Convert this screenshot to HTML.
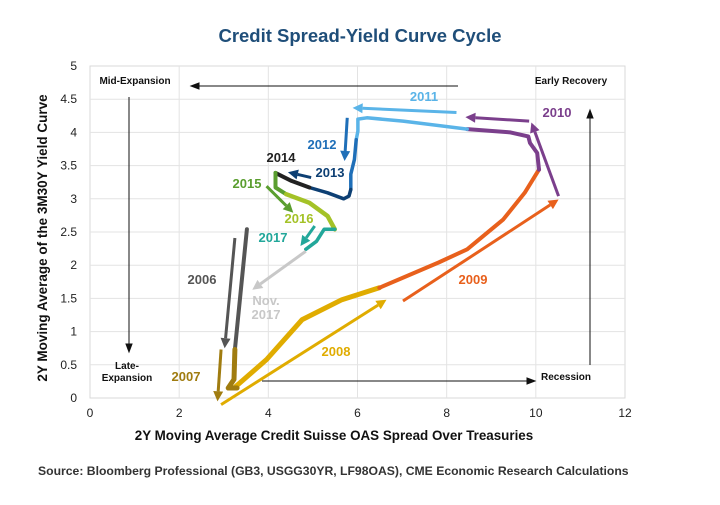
<!DOCTYPE html>
<html><head><meta charset="utf-8"><style>
body{margin:0;background:#fff;width:720px;height:500px;overflow:hidden;font-family:"Liberation Sans",sans-serif}
svg text{font-family:"Liberation Sans",sans-serif}
</style></head><body>
<svg id="chart" width="720" height="500" xmlns="http://www.w3.org/2000/svg">
<text x="360" y="42" text-anchor="middle" font-size="18.5" font-weight="bold" fill="#1f4e79">Credit Spread-Yield Curve Cycle</text>
<g id="grid"></g>
<g id="xticks"></g>
<g id="yticks"></g>
<g id="series"></g>
<g id="labels"></g>
<g font-size="10" font-weight="bold" fill="#111">
<text x="135" y="84" text-anchor="middle">Mid-Expansion</text>
<text x="571" y="84" text-anchor="middle">Early Recovery</text>
<text x="127" y="369" text-anchor="middle">Late-</text>
<text x="127" y="381" text-anchor="middle">Expansion</text>
<text x="566" y="380" text-anchor="middle">Recession</text>
</g>
<g stroke="#111" stroke-width="1" fill="#111">
<line x1="458" y1="86" x2="196" y2="86"/><polygon points="191,86 199,83 199,89"/>
<line x1="129" y1="97" x2="129" y2="347"/><polygon points="129,352 126,344 132,344"/>
<line x1="262" y1="381" x2="530" y2="381"/><polygon points="535,381 527,378 527,384"/>
<line x1="590" y1="365" x2="590" y2="115"/><polygon points="590,110 587,118 593,118"/>
</g>
<text transform="translate(47,238) rotate(-90)" text-anchor="middle" font-size="13.5" font-weight="bold" fill="#111">2Y Moving Average of the 3M30Y Yield Curve</text>
<text x="334" y="440" text-anchor="middle" font-size="13.4" font-weight="bold" fill="#111">2Y Moving Average Credit Suisse OAS Spread Over Treasuries</text>
<text x="38" y="475" font-size="12.2" font-weight="bold" fill="#333">Source: Bloomberg Professional (GB3, USGG30YR, LF98OAS), CME Economic Research Calculations</text>
</svg>
<script>
const xTicks=[0,2,4,6,8,10,12];
const yTicks=[0,0.5,1,1.5,2,2.5,3,3.5,4,4.5,5];
const yTickLabels=["0","0.5","1","1.5","2","2.5","3","3.5","4","4.5","5"];
const s2006=[[3.52,2.54],[3.25,0.73]];
const s2007=[[3.25,0.73],[3.23,0.28],[3.1,0.15],[3.3,0.15]];
const s2008=[[3.23,0.15],[3.96,0.58],[4.76,1.18],[5.65,1.48],[6.49,1.66]];
const s2009=[[6.49,1.66],[7.82,2.04],[8.46,2.24],[9.27,2.69],[9.75,3.09],[10.07,3.44]];
const s2010=[[10.07,3.44],[10.03,3.69],[9.87,3.84],[9.83,3.94],[9.43,4.0],[8.46,4.05]];
const s2011=[[8.46,4.05],[7.02,4.17],[6.21,4.22],[6.01,4.2],[6.01,4.02],[5.97,3.89]];
const s2012=[[5.97,3.89],[5.93,3.59],[5.85,3.37],[5.85,3.14]];
const s2013=[[5.85,3.14],[5.81,3.04],[5.69,3.0],[5.33,3.09],[4.92,3.17]];
const s2014=[[4.92,3.17],[4.52,3.27],[4.16,3.39]];
const s2015=[[4.16,3.39],[4.16,3.17],[4.4,3.07]];
const s2016=[[4.4,3.07],[4.92,2.94],[5.33,2.74],[5.49,2.54]];
const s2017=[[5.49,2.54],[5.25,2.54],[5.08,2.36],[4.84,2.24]];
const a2006=[[3.25,2.41],[3.02,0.75]];
const a2007=[[2.94,0.73],[2.86,-0.05]];
const a2008=[[2.94,-0.1],[6.65,1.48]];
const a2009=[[7.02,1.46],[10.51,2.99]];
const a2010a=[[10.51,3.04],[9.9,4.15]];
const a2010b=[[9.85,4.17],[8.42,4.23]];
const a2011=[[8.22,4.3],[5.89,4.37]];
const a2012=[[5.77,4.22],[5.71,3.57]];
const a2013=[[4.96,3.32],[4.44,3.4]];
const a2015=[[3.96,3.19],[4.56,2.79]];
const a2017=[[5.04,2.59],[4.72,2.29]];
const aNov=[[4.84,2.21],[3.64,1.63]];
const NS="http://www.w3.org/2000/svg";
const X0=90,X1=625,Y0=398,Y1=66;
const xs=v=>X0+(v-0)/(12-0)*(X1-X0);
const ys=v=>Y0-(v-0)/(5-0)*(Y0-Y1);
function mk(tag,attrs,parent){const e=document.createElementNS(NS,tag);for(const k in attrs)e.setAttribute(k,attrs[k]);parent.appendChild(e);return e;}
const grid=document.getElementById('grid');
mk('rect',{x:X0,y:Y1,width:X1-X0,height:Y0-Y1,fill:'none',stroke:'#d9d9d9','stroke-width':1},grid);
xTicks.forEach(t=>{if(t>0&&t<12){const l=mk('line',{x1:xs(t),x2:xs(t),y1:Y1,y2:Y0,stroke:'#e3e3e3'},grid);}
 const tx=mk('text',{x:xs(t),y:Y0+19,'text-anchor':'middle','font-size':12,fill:'#222'},document.getElementById('xticks'));tx.textContent=t;
 
 });
yTicks.forEach((t,i)=>{if(t>0&&t<5){const l=mk('line',{x1:X0,x2:X1,y1:ys(t),y2:ys(t),stroke:'#e3e3e3'},grid);}
 const tx=mk('text',{x:X0-13,y:ys(t)+4,'text-anchor':'end','font-size':12,fill:'#222'},document.getElementById('yticks'));tx.textContent=yTickLabels[i];
 
 });
const ser=document.getElementById('series');
function path(pts,color,w,name){const d=pts.map((p,i)=>(i?'L':'M')+xs(p[0]).toFixed(1)+','+ys(p[1]).toFixed(1)).join(' ');
 const e=mk('path',{d:d,fill:'none',stroke:color,'stroke-width':w,'stroke-linejoin':'round','stroke-linecap':'round'},ser);
 
 }
function arrow(pts,color,name){const [a,b]=pts;const x1=xs(a[0]),y1=ys(a[1]),x2=xs(b[0]),y2=ys(b[1]);
 const ang=Math.atan2(y2-y1,x2-x1),L=10,W=5;const bx=x2-L*Math.cos(ang),by=y2-L*Math.sin(ang);
 const g=mk('g',{},ser);
 
 
 mk('line',{x1:x1,y1:y1,x2:bx,y2:by,stroke:color,'stroke-width':3},g);
 const px=-Math.sin(ang)*W,py=Math.cos(ang)*W;
 mk('polygon',{points:`${x2},${y2} ${bx+px},${by+py} ${bx-px},${by-py}`,fill:color},g);}
path(s2006,'#555','4','path-2006');
path(s2008,'#e0ac00','5','path-2008');
path(s2007,'#a07c10','5','path-2007');
path(s2009,'#e8601c','4','path-2009');
path(s2010,'#7b3f8c','4','path-2010');
path(s2011,'#5ab4e8','3.5','path-2011');
path(s2012,'#1f6fb8','3.5','path-2012');
path(s2013,'#0d3f73','3.5','path-2013');
path(s2014,'#222','4','path-2014');
path(s2015,'#5a9e2f','4','path-2015');
path(s2016,'#a4c227','4.5','path-2016');
path(s2017,'#22a79a','3.5','path-2017');
arrow(a2006,'#555','arrow-2006');
arrow(a2007,'#a07c10','arrow-2007');
arrow(a2008,'#e0ac00','arrow-2008');
arrow(a2009,'#e8601c','arrow-2009');
arrow(a2010a,'#7b3f8c','arrow-2010-up');
arrow(a2010b,'#7b3f8c','arrow-2010-left');
arrow(a2011,'#5ab4e8','arrow-2011');
arrow(a2012,'#1f6fb8','arrow-2012');
arrow(a2013,'#0d3f73','arrow-2013');
arrow(a2015,'#5a9e2f','arrow-2015');
arrow(a2017,'#22a79a','arrow-2017');
arrow(aNov,'#c8c8c8','arrow-nov-2017');
const lab=document.getElementById('labels');
[['2011',424,101,'#5ab4e8'],['2010',557,117,'#7b3f8c'],['2012',322,149,'#1f6fb8'],['2014',281,162,'#222'],['2013',330,177,'#0d3f73'],
 ['2015',247,188,'#5a9e2f'],['2016',299,223,'#a4c227'],['2017',273,242,'#22a79a'],['2006',202,284,'#555'],['Nov.',266,305,'#c8c8c8'],['2017',266,319,'#c8c8c8'],
 ['2009',473,284,'#e8601c'],['2008',336,356,'#e0ac00'],['2007',186,381,'#a07c10']].forEach(r=>{
 const t=mk('text',{x:r[1],y:r[2],'text-anchor':'middle','font-size':13,'font-weight':'bold',fill:r[3]},lab);t.textContent=r[0];
 
 });
</script>
</body></html>
